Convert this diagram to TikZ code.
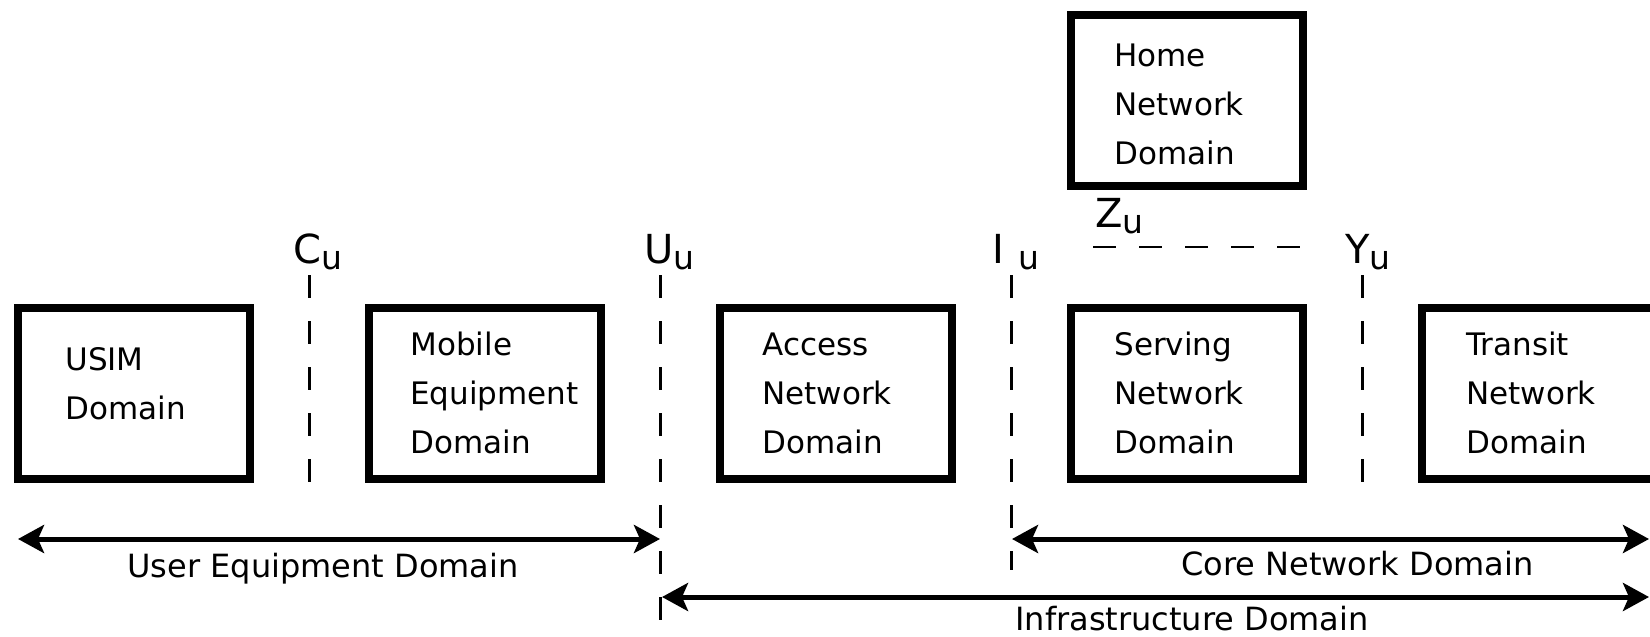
\documentclass[tikz,border=0pt]{standalone}
\usepackage{fontspec}
\setmainfont{DejaVu Sans}
\usetikzlibrary{arrows.meta}
\newcommand\subu{\raisebox{-3pt}{\fontsize{16.5}{18}\selectfont u}}
\begin{document}
\begin{tikzpicture}[x=0.5pt,y=-0.5pt,
  domainbox/.style={draw=black, line width=4pt, minimum width=116pt, minimum height=85.5pt, inner sep=0pt, outer sep=0pt},
  boxtext/.style={anchor=base west, align=left, inner sep=0pt, font=\fontsize{15.5}{24.5}\selectfont},
  iflabel/.style={anchor=base west, inner sep=0pt, font=\fontsize{20}{24}\selectfont},
  dashline/.style={line width=1.2pt, dash pattern=on 11.5pt off 11.5pt},
  domarrow/.style={line width=2.5pt, {Stealth[length=13pt,width=14pt,inset=3pt]}-{Stealth[length=13pt,width=14pt,inset=3pt]}},
  armlabel/.style={anchor=base west, inner sep=0pt, font=\fontsize{16}{19}\selectfont}]
\useasboundingbox (0,0) rectangle (1650,637);

% domain boxes
\node[domainbox] (usim) at (134,393.5) {};
\node[domainbox] (me) at (485,393.5) {};
\node[domainbox] (an) at (836,393.5) {};
\node[domainbox] (sn) at (1187,393.5) {};
\node[domainbox] (tn) at (1538,393.5) {};
\node[domainbox] (hn) at (1187,100) {};

% box texts (anchored at the baseline of the last line)
\node[boxtext] (usimt) at (65,419) {USIM\\Domain};
\node[boxtext] (met) at (410,453) {Mobile\\Equipment\\Domain};
\node[boxtext] (ant) at (762,453) {Access\\Network\\Domain};
\node[boxtext] (snt) at (1114,453) {Serving\\Network\\Domain};
\node[boxtext] (tnt) at (1466,453) {Transit\\Network\\Domain};
\node[boxtext] (hnt) at (1114,164) {Home\\Network\\Domain};

% reference points
\coordinate (cTop) at (309.5,275); \coordinate (cBot) at (309.5,486);
\coordinate (uTop) at (660.5,275); \coordinate (uBot) at (660.5,628);
\coordinate (iTop) at (1011.5,275); \coordinate (iBot) at (1011.5,570);
\coordinate (yTop) at (1362.5,275); \coordinate (yBot) at (1362.5,486);
\coordinate (zL) at (1093,247); \coordinate (zR) at (1306,247);

% reference point labels
\node[iflabel] (cu) at (293,263) {C\subu};
\node[iflabel] (uu) at (644,263) {U\subu};
\node[iflabel] (iu) at (992.5,263) {I\hspace{7pt}\subu};
\node[iflabel] (yu) at (1345,263) {Y\subu};
\node[iflabel] (zu) at (1095,227) {Z\subu};

% dashed reference lines
\draw[dashline] (cTop) -- (cBot);
\draw[dashline] (uTop) -- (uBot);
\draw[dashline] (iTop) -- (iBot);
\draw[dashline] (yTop) -- (yBot);
\draw[dashline] (zL) -- (zR);

% domain arrows
\coordinate (ueL) at (18,539); \coordinate (ueR) at (660,539);
\coordinate (cnL) at (1012,539); \coordinate (cnR) at (1649,539);
\coordinate (inL) at (662,597); \coordinate (inR) at (1649,597);
\draw[domarrow] (ueL) -- (ueR);
\draw[domarrow] (cnL) -- (cnR);
\draw[domarrow] (inL) -- (inR);

\node[armlabel] (uel) at (127,577) {User Equipment Domain};
\node[armlabel] (cnl) at (1181,575) {Core Network Domain};
\node[armlabel] (inl) at (1015,630) {Infrastructure Domain};
\end{tikzpicture}
\end{document}
